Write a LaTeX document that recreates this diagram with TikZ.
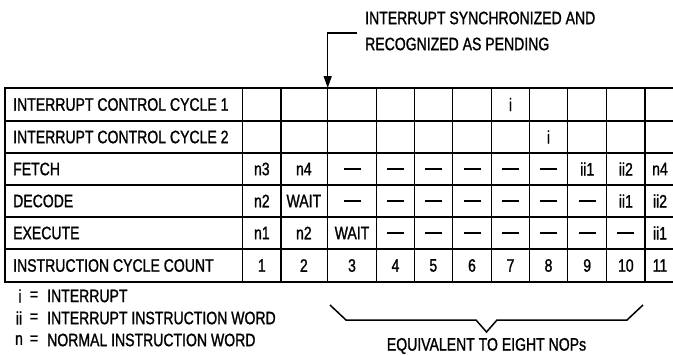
\documentclass[tikz,border=0pt]{standalone}
\usepackage{fontspec}
\setmainfont{Liberation Sans}[FakeStretch=0.78,FakeBold=1.2]
\usetikzlibrary{arrows.meta}
\newcommand{\colx}[1]{\ifcase#1 0\or261.85\or303.85\or352\or395.5\or433.3\or472\or510.5\or548.5\or587.2\or625.85\or660\fi}
\newcommand{\rowy}[1]{\ifcase#1 0\or104.5\or137\or169\or201\or233\or265.5\fi}
\begin{document}
\begin{tikzpicture}[x=1pt,y=-1pt,
  txt/.style={font=\fontsize{18}{20}\selectfont, inner sep=0pt},
  cell/.style={txt, anchor=center},
  lbl/.style={txt, anchor=west},
  thin/.style={line width=1.2pt},
  thick/.style={line width=2.2pt},
  brace/.style={line width=1.5pt, line join=miter}]
\useasboundingbox (0,0) rectangle (673,354);
% rows
\foreach \y in {121,185,217}{\draw[thin] (5,\y) -- (673,\y);}
\foreach \y in {88,153,249,282}{\draw[thick] (4,\y) -- (673,\y);}
\draw[thick] (5,87) -- (5,283);
\foreach \xx in {242.7,281,327.7,376.7,414.3,452.3,491.7,529.3,567.7,606.7,645}{
  \draw[thin] (\xx,88) -- (\xx,282);
}
% labels
\node[lbl] (l1) at (13,\rowy{1}) {INTERRUPT CONTROL CYCLE 1};
\node[lbl] (l2) at (13,\rowy{2}) {INTERRUPT CONTROL CYCLE 2};
\node[lbl] (l3) at (13,\rowy{3}) {FETCH};
\node[lbl] (l4) at (13,\rowy{4}) {DECODE};
\node[lbl] (l5) at (13,\rowy{5}) {EXECUTE};
\node[lbl] (l6) at (13,\rowy{6}) {INSTRUCTION CYCLE COUNT};
\newcommand{\cellat}[3]{\node[cell] (c#1r#2) at (\colx{#1},\rowy{#2}) {#3};}
\newcommand{\dash}{\rule{17pt}{1.5pt}}
% ICC rows
\cellat{7}{1}{i}
\cellat{8}{2}{i}
% fetch
\cellat{1}{3}{n3}\cellat{2}{3}{n4}
\foreach \c in {3,...,8}{\cellat{\c}{3}{\dash}}
\cellat{9}{3}{ii1}\cellat{10}{3}{ii2}\cellat{11}{3}{n4}
% decode
\cellat{1}{4}{n2}\cellat{2}{4}{WAIT}
\foreach \c in {3,...,9}{\cellat{\c}{4}{\dash}}
\cellat{10}{4}{ii1}\cellat{11}{4}{ii2}
% execute
\cellat{1}{5}{n1}\cellat{2}{5}{n2}\cellat{3}{5}{WAIT}
\foreach \c in {4,...,10}{\cellat{\c}{5}{\dash}}
\cellat{11}{5}{ii1}
% count
\foreach \c in {1,...,11}{\cellat{\c}{6}{\c}}
% header annotation
\node[lbl] (h1) at (365,18) {INTERRUPT SYNCHRONIZED AND};
\node[lbl] (h2) at (365,44) {RECOGNIZED AS PENDING};
\coordinate (hs) at (357,33);
\coordinate (hk) at (327.7,33);
\coordinate (ht) at (327.7,88);
\draw[line width=1.5pt, -{Triangle[length=12pt,width=8pt]}] (hs) -- (hk) -- (ht);
% legend
\node[cell] (s1) at (20,296) {i};
\node[cell] (s2) at (19,318) {ii};
\node[cell] (s3) at (19,340) {n};
\node[cell] (e1) at (34,296) {=};
\node[cell] (e2) at (34,318) {=};
\node[cell] (e3) at (34,340) {=};
\node[lbl] (t1) at (47,296) {INTERRUPT};
\node[lbl] (t2) at (47,318) {INTERRUPT INSTRUCTION WORD};
\node[lbl] (t3) at (47,340) {NORMAL INSTRUCTION WORD};
% brace
\coordinate (b1) at (330,305);
\coordinate (b2) at (346,320);
\coordinate (b3) at (476,320);
\coordinate (bt) at (486.5,332);
\coordinate (b4) at (497,320);
\coordinate (b5) at (627,320);
\coordinate (b6) at (643,305);
\draw[brace] (b1) -- (b2) -- (b3) -- (bt) -- (b4) -- (b5) -- (b6);
\node[cell] (eq) at (486.5,346) {EQUIVALENT TO EIGHT NOPs};
\end{tikzpicture}
\end{document}
